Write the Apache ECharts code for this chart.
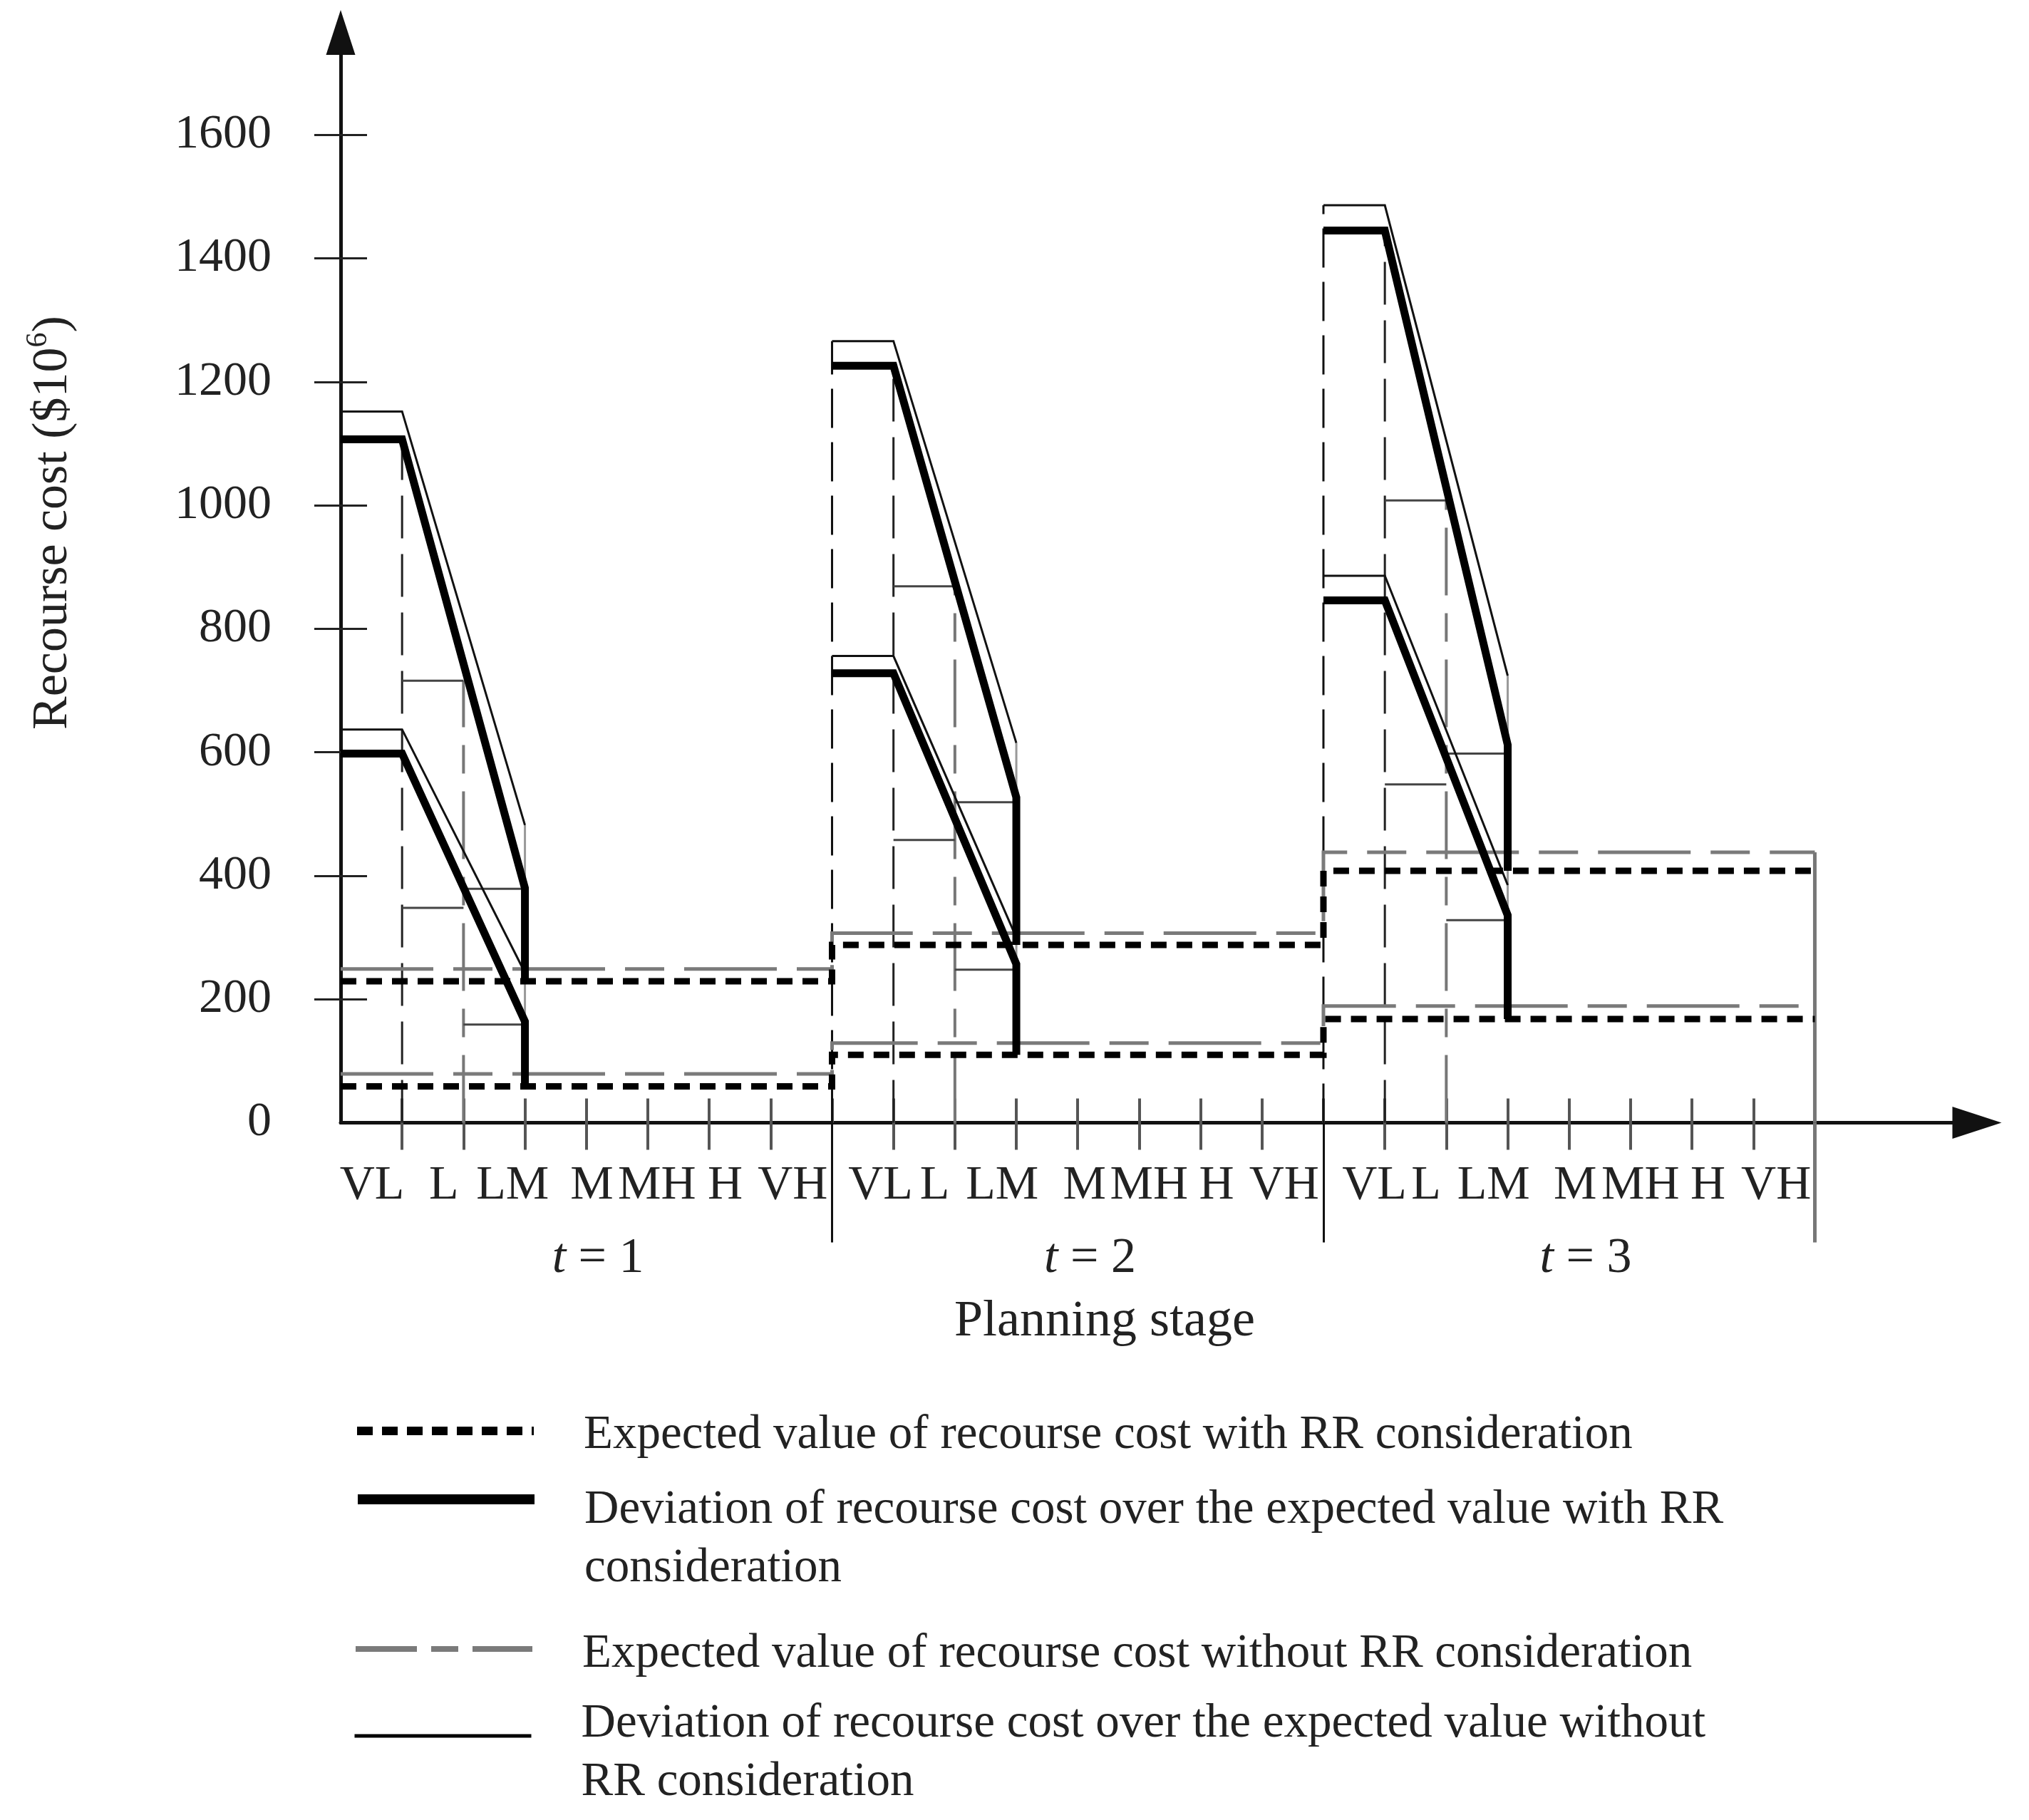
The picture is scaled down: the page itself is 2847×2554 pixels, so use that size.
<!DOCTYPE html>
<html>
<head>
<meta charset="utf-8">
<script src="https://cdn.jsdelivr.net/npm/echarts@6/dist/echarts.min.js"></script>
<style>html,body{margin:0;padding:0;background:#fff}#c{width:2847px;height:2554px}</style>
</head>
<body>
<div id="c"></div>
<script>
// ---------------- data ----------------
const stageNames = ['1', '2', '3'];
const levels = ['VL', 'L', 'LM', 'M', 'MH', 'H', 'VH'];
const yTickValues = [0, 200, 400, 600, 800, 1000, 1200, 1400, 1600];

// expected values (per stage)
const expWithRRHigh = [229, 288, 408];
const expWithRRLow  = [59, 110, 168];
const expNoRRHigh   = [249, 307, 438];
const expNoRRLow    = [79, 129, 189];

// deviation with RR (thick): value held over VL, value reached at end of LM
const devRRHighTop = [1107, 1226, 1445];
const devRRHighEnd = [380, 527, 612];
const devRRLowTop  = [598, 728, 846];
const devRRLowEnd  = [164, 257, 336];

// deviation without RR (thin)
const devNoRRHighTop = [1152, 1266, 1486];
const devNoRRHighEnd = [482, 615, 724];
const devNoRRLowTop  = [637, 756, 886];
const devNoRRLowEnd  = [243, 300, 385];

// thin step boxes for levels L and LM
const boxLTop  = [716, 869, 1008];
const boxLBot  = [348, 458, 548];
const boxLMTop = [379, 519, 598];
const boxLMBot = [159, 248, 328];

// tick-label positions on the planning-stage axis
const levelLabelPos = [0.51, 1.68, 2.80, 4.09, 5.15, 6.26, 7.36,
                       8.79, 9.67, 10.77, 12.11, 13.16, 14.26, 15.36,
                       16.83, 17.67, 18.77, 20.10, 21.16, 22.26, 23.37];
const stageLabelPos = [4.19, 12.2, 20.27];

// ---------------- chart ----------------
const SPAN = 8;             // axis units per planning stage
const XMAX = 26.64, YMAX = 1766;
const FONT = '"Liberation Serif","Times New Roman",serif';
const NAMES = [
  'Expected value of recourse cost with RR consideration',
  'Deviation of recourse cost over the expected value with RR consideration',
  'Expected value of recourse cost without RR consideration',
  'Deviation of recourse cost over the expected value without RR consideration'
];

const series = [];
function addLine(name, pts, style, z) {
  series.push({
    name: name, type: 'line', data: pts, symbol: 'none', showSymbol: false,
    animation: false, silent: true, z: z, emphasis: { disabled: true },
    lineStyle: Object.assign({ cap: 'butt', join: 'miter' }, style)
  });
}

const boxStyle = { color: '#444', width: 3 };
for (let k = 0; k < 3; k++) {
  const s = k * SPAN;
  if (k > 0) addLine('boundary', [[s, 0], [s, devNoRRHighTop[k]]], { color: '#111', width: 3, type: [55, 20] }, 1);
  addLine('edgeL', [[s + 1, 0], [s + 1, devRRHighTop[k]]], { color: '#222', width: 3, type: [60, 22] }, 1);
  addLine('edgeLM', [[s + 2, 0], [s + 2, boxLTop[k]]], { color: '#777', width: 4, type: [95, 25, 40, 25] }, 1);
  addLine('box', [[s + 1, boxLTop[k]], [s + 2, boxLTop[k]]], boxStyle, 2);
  addLine('box', [[s + 1, boxLBot[k]], [s + 2, boxLBot[k]]], boxStyle, 2);
  addLine('box', [[s + 2, boxLMTop[k]], [s + 3, boxLMTop[k]]], boxStyle, 2);
  addLine('box', [[s + 2, boxLMBot[k]], [s + 3, boxLMBot[k]]], boxStyle, 2);
  addLine('box', [[s + 3, devNoRRHighEnd[k]], [s + 3, expWithRRLow[k]]], { color: '#999', width: 3 }, 2);
}
addLine('end', [[3 * SPAN, 0], [3 * SPAN, expNoRRHigh[2]]], { color: '#777', width: 5 }, 1);

function stepLine(vals) {
  const pts = [];
  vals.forEach(function (v, k) { pts.push([k * SPAN, v], [(k + 1) * SPAN, v]); });
  return pts;
}
// expected without RR (gray long dash)
addLine(NAMES[2], stepLine(expNoRRHigh), { color: '#7a7a7a', width: 5, type: [130, 28, 55, 28] }, 3);
addLine(NAMES[2], stepLine(expNoRRLow), { color: '#7a7a7a', width: 5, type: [130, 28, 55, 28] }, 3);

// deviation without RR (thin)
for (let k = 0; k < 3; k++) {
  const s = k * SPAN;
  addLine(NAMES[3], [[s, devNoRRHighTop[k]], [s + 1, devNoRRHighTop[k]], [s + 3, devNoRRHighEnd[k]]], { color: '#111', width: 3 }, 4);
  addLine(NAMES[3], [[s, devNoRRLowTop[k]], [s + 1, devNoRRLowTop[k]], [s + 3, devNoRRLowEnd[k]]], { color: '#111', width: 3 }, 4);
}
// expected with RR (thick dotted)
addLine(NAMES[0], stepLine(expWithRRHigh), { color: '#000', width: 9, type: [22, 14] }, 5);
addLine(NAMES[0], stepLine(expWithRRLow), { color: '#000', width: 9, type: [22, 14] }, 5);
// deviation with RR (thick)
for (let k = 0; k < 3; k++) {
  const s = k * SPAN;
  addLine(NAMES[1], [[s, devRRHighTop[k]], [s + 1, devRRHighTop[k]], [s + 3, devRRHighEnd[k]], [s + 3, expWithRRHigh[k]]], { color: '#000', width: 11 }, 6);
  addLine(NAMES[1], [[s, devRRLowTop[k]], [s + 1, devRRLowTop[k]], [s + 3, devRRLowEnd[k]], [s + 3, expWithRRLow[k]]], { color: '#000', width: 11 }, 6);
}

function nearestIndex(arr, v) {
  let best = 0;
  for (let i = 1; i < arr.length; i++) if (Math.abs(arr[i] - v) < Math.abs(arr[best] - v)) best = i;
  return best;
}
const innerTicks = [];
const outerTicks = [];
for (let i = 1; i < 3 * SPAN; i++) { innerTicks.push(i); if (i % SPAN !== 0) outerTicks.push(i); }

const legendLines = [
  ['Expected value of recourse cost with RR consideration'],
  ['Deviation of recourse cost over the expected value with RR', 'consideration'],
  ['Expected value of recourse cost without RR consideration'],
  ['Deviation of recourse cost over the expected value without', 'RR consideration']
];
const legendTop = [1963, 2018, 2269, 2350];
const legendLead = [12, 112, 14, 48];
const legendLineStyle = [
  { color: '#000', width: 12, type: [22, 13] },
  { color: '#000', width: 14, type: 'solid' },
  { color: '#7a7a7a', width: 8, type: [86, 20, 38, 20] },
  { color: '#000', width: 5, type: 'solid' }
];
const legends = NAMES.map(function (n, i) {
  return {
    data: [n], left: 495, top: legendTop[i], orient: 'vertical', padding: 0,
    itemWidth: 248, itemHeight: 20, selectedMode: false,
    itemStyle: { opacity: 0 },
    lineStyle: Object.assign({ cap: 'butt', opacity: 1 }, legendLineStyle[i]),
    formatter: function () {
      return '{sp| }\n' + legendLines[i].map(function (l) { return '{t|' + l + '}'; }).join('\n');
    },
    textStyle: {
      rich: {
        sp: { fontSize: 8, lineHeight: legendLead[i] },
        t: { fontSize: 67, lineHeight: 82, fontFamily: FONT, color: '#222', padding: [0, 0, 0, 65] }
      }
    }
  };
});

const baseX = { type: 'value', min: 0, max: XMAX, position: 'bottom', splitLine: { show: false } };
const option = {
  backgroundColor: '#fff',
  animation: false,
  grid: { left: 478, right: 73, top: 45.5, bottom: 978.5, containLabel: false, outerBoundsMode: 'none' },
  legend: legends,
  xAxis: [
    Object.assign({}, baseX, {
      axisLine: { show: true, onZero: false, symbol: ['none', 'triangle'], symbolSize: [45, 69], lineStyle: { color: '#111', width: 5 } },
      axisTick: { show: true, customValues: outerTicks, length: 38, lineStyle: { color: '#555', width: 4 } },
      axisLabel: {
        show: true, customValues: levelLabelPos, margin: 55, fontSize: 68, fontFamily: FONT, color: '#222', lineHeight: 68,
        formatter: function (v) { return levels[nearestIndex(levelLabelPos, v) % levels.length]; }
      },
      name: 'Planning stage', nameLocation: 'middle', nameGap: 244,
      nameTextStyle: { fontSize: 72, fontFamily: FONT, color: '#222', lineHeight: 72, padding: [0, 152, 0, 0] }
    }),
    Object.assign({}, baseX, {
      axisLine: { show: false, onZero: false },
      axisTick: { show: true, inside: true, customValues: innerTicks, length: 34, lineStyle: { color: '#555', width: 4 } },
      axisLabel: { show: false }
    }),
    Object.assign({}, baseX, {
      axisLine: { show: false, onZero: false },
      axisTick: { show: true, customValues: [SPAN, 2 * SPAN], length: 168, lineStyle: { color: '#111', width: 3 } },
      axisLabel: {
        show: true, customValues: stageLabelPos, margin: 156, fontSize: 70, fontFamily: FONT, color: '#222', lineHeight: 70,
        formatter: function (v) { return '{i|t} = ' + stageNames[nearestIndex(stageLabelPos, v)]; },
        rich: { i: { fontStyle: 'italic', fontSize: 70, fontFamily: FONT, color: '#222' } }
      }
    }),
    Object.assign({}, baseX, {
      axisLine: { show: false, onZero: false },
      axisTick: { show: true, customValues: [3 * SPAN], length: 168, lineStyle: { color: '#777', width: 5 } },
      axisLabel: { show: false }
    })
  ],
  yAxis: [
    {
      type: 'value', min: 0, max: YMAX, position: 'left', splitLine: { show: false },
      axisLine: { show: true, onZero: false, symbol: ['none', 'triangle'], symbolSize: [41, 63], lineStyle: { color: '#111', width: 5 } },
      axisTick: { show: true, customValues: yTickValues.slice(1), length: 37, lineStyle: { color: '#222', width: 3 } },
      axisLabel: {
        show: true, customValues: yTickValues, margin: 97, fontSize: 68, fontFamily: FONT, color: '#222',
        formatter: function (v) { return String(Math.round(v)); }
      },
      name: 'Recourse cost ($10{sup|6})', nameLocation: 'middle', nameGap: 361, nameRotate: 90,
      nameTextStyle: {
        fontSize: 70, fontFamily: FONT, color: '#222', lineHeight: 84, padding: [0, 0, 0, 154],
        rich: { sup: { fontSize: 42, lineHeight: 42, fontFamily: FONT, color: '#222', verticalAlign: 'top' } }
      }
    },
    {
      type: 'value', min: 0, max: YMAX, position: 'left', splitLine: { show: false },
      axisLine: { show: false, onZero: false },
      axisTick: { show: true, inside: true, customValues: yTickValues.slice(1), length: 37, lineStyle: { color: '#222', width: 3 } },
      axisLabel: { show: false }
    }
  ],
  series: series
};

const chart = echarts.init(document.getElementById('c'), null, { renderer: 'canvas' });
chart.setOption(option);
</script>
</body>
</html>
